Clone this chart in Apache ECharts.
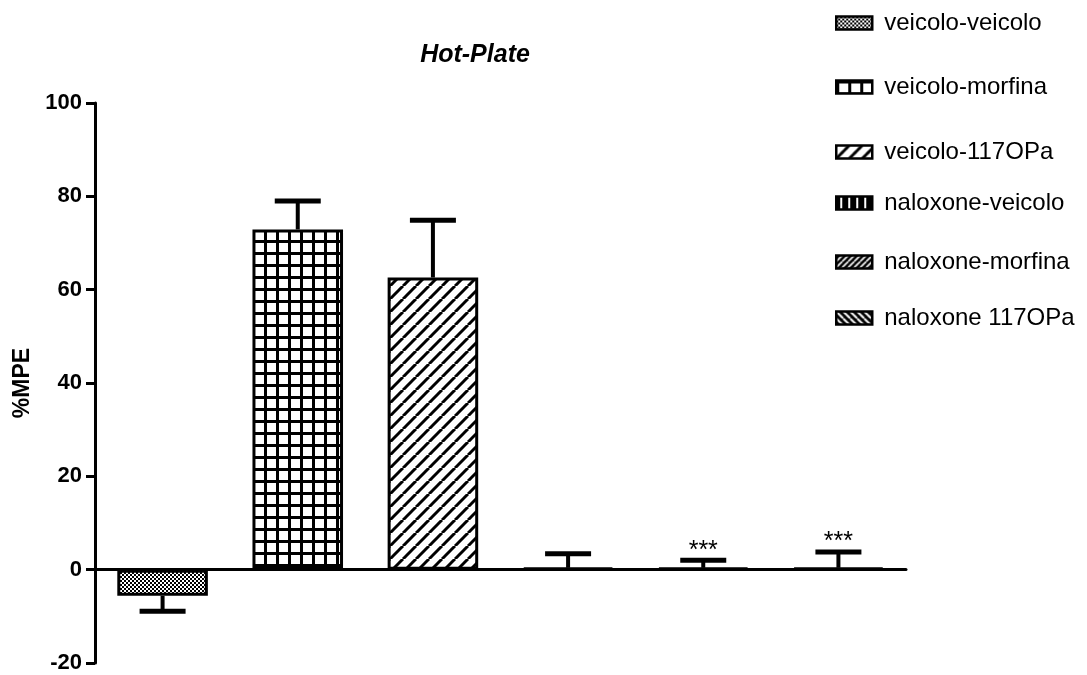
<!DOCTYPE html>
<html>
<head>
<meta charset="utf-8">
<script src="https://cdn.jsdelivr.net/npm/echarts@6/dist/echarts.min.js"></script>
<style>
  html, body { margin: 0; padding: 0; background: #fff; }
  #main { width: 1087px; height: 675px; }
</style>
</head>
<body>
<div id="main"></div>
<script>
// dati
var groups = ['veicolo-veicolo', 'veicolo-morfina', 'veicolo-117OPa', 'naloxone-veicolo', 'naloxone-morfina', 'naloxone 117OPa'];
var means = [-5.6, 72.9, 62.6, 0.4, 0.4, 0.4];
var sems = [3.3, 6.1, 12.3, 3.0, 1.6, 3.4];
var stars = ['', '', '', '', '***', '***'];
var yTicks = [-20, 0, 20, 40, 60, 80, 100];

var FONT = 'Liberation Sans, Arial, sans-serif';

// piccole tile per i retini delle barre
function tile(w, h, draw) {
    var c = document.createElement('canvas');
    c.width = w;
    c.height = h;
    draw(c.getContext('2d'), w, h);
    return c;
}
function hatch(size, bg, fg, lw, dir) {
    return tile(size, size, function (ctx, w, h) {
        ctx.fillStyle = bg;
        ctx.fillRect(0, 0, w, h);
        ctx.strokeStyle = fg;
        ctx.lineWidth = lw;
        for (var k = -1; k <= 1; k++) {
            ctx.beginPath();
            if (dir > 0) {
                ctx.moveTo(k * w, h);
                ctx.lineTo(k * w + w, 0);
            } else {
                ctx.moveTo(k * w, 0);
                ctx.lineTo(k * w + w, h);
            }
            ctx.stroke();
        }
    });
}
var patterns = [
    tile(4, 4, function (ctx) {
        ctx.fillStyle = '#fff'; ctx.fillRect(0, 0, 4, 4);
        ctx.fillStyle = '#000'; ctx.fillRect(0, 0, 2, 2); ctx.fillRect(2, 2, 2, 2);
    }),
    tile(12, 12, function (ctx) {
        ctx.fillStyle = '#fff'; ctx.fillRect(0, 0, 12, 12);
        ctx.fillStyle = '#000'; ctx.fillRect(0, 0, 12, 3); ctx.fillRect(0, 0, 3, 12);
    }),
    hatch(13, '#fff', '#000', 3, 1),
    tile(8, 8, function (ctx) {
        ctx.fillStyle = '#000'; ctx.fillRect(0, 0, 8, 8);
        ctx.fillStyle = '#fff'; ctx.fillRect(4, 0, 2, 8);
    }),
    hatch(6, '#000', '#fff', 1.6, 1),
    hatch(7, '#000', '#fff', 2, -1)
];

var legendTops = [6, 70, 135, 186, 245, 301];

var series = [];
groups.forEach(function (g, i) {
    var d = groups.map(function (x, j) { return j === i ? means[i] : '-'; });
    series.push({
        name: g,
        type: 'bar',
        stack: 'tot',
        barWidth: '67%',
        data: d,
        itemStyle: {
            color: { image: patterns[i], repeat: 'repeat' },
            borderColor: '#000',
            borderWidth: 3
        },
        emphasis: { disabled: true }
    });
});

// barre d'errore (SEM) + asterischi
var errData = means.map(function (m, i) {
    var end = m < 0 ? m - sems[i] : m + sems[i];
    return [i, m, end, stars[i]];
});
series.push({
    type: 'custom',
    name: 'sem',
    z: 5,
    data: errData,
    encode: { x: 0, y: [1, 2] },
    renderItem: function (params, api) {
        var base = api.coord([api.value(0), api.value(1)]);
        var tip = api.coord([api.value(0), api.value(2)]);
        var x = base[0];
        var children = [
            { type: 'line', shape: { x1: x, y1: base[1], x2: x, y2: tip[1] }, style: { stroke: '#000', lineWidth: 4 } },
            { type: 'line', shape: { x1: x - 23, y1: tip[1], x2: x + 23, y2: tip[1] }, style: { stroke: '#000', lineWidth: 5 } }
        ];
        var lab = errData[params.dataIndex][3];
        if (lab) {
            children.push({
                type: 'text',
                style: {
                    text: lab, x: x, y: tip[1] + 3,
                    align: 'center', verticalAlign: 'bottom',
                    fontSize: 25, fontFamily: FONT, fill: '#000'
                }
            });
        }
        return { type: 'group', children: children };
    }
});

var legends = groups.map(function (g, i) {
    return {
        data: [g],
        left: 830,
        top: legendTops[i],
        itemWidth: 36,
        itemHeight: 13,
        selectedMode: false,
        icon: 'rect',
        itemStyle: { borderColor: '#000', borderWidth: 2.5 },
        textStyle: { fontSize: 24, fontFamily: FONT, color: '#000', padding: [0, 0, 0, 7] }
    };
});

var myChart = echarts.init(document.getElementById('main'));

option = {
    backgroundColor: '#fff',
    animation: false,
    title: {
        text: 'Hot-Plate',
        left: 470,
        textAlign: 'center',
        top: 38,
        textStyle: { fontSize: 25, fontWeight: 'bold', fontStyle: 'italic', fontFamily: FONT, color: '#000' }
    },
    legend: legends,
    grid: { left: 95, right: 181, top: 103, bottom: 12 },
    xAxis: {
        type: 'category',
        data: groups,
        axisLine: { lineStyle: { color: '#000', width: 3 } },
        axisTick: { show: false },
        axisLabel: { show: false }
    },
    yAxis: {
        type: 'value',
        min: yTicks[0],
        max: yTicks[yTicks.length - 1],
        interval: 20,
        name: '%MPE',
        nameLocation: 'middle',
        nameGap: 56,
        nameTextStyle: { fontSize: 23, fontWeight: 'bold', fontFamily: FONT, color: '#000' },
        axisLine: { show: true, onZero: false, lineStyle: { color: '#000', width: 3 } },
        axisTick: { show: true, length: 9, lineStyle: { color: '#000', width: 3 } },
        axisLabel: { fontSize: 22, fontWeight: 'bold', fontFamily: FONT, color: '#000', margin: 13 },
        splitLine: { show: false }
    },
    series: series
};

myChart.setOption(option);
</script>
</body>
</html>
